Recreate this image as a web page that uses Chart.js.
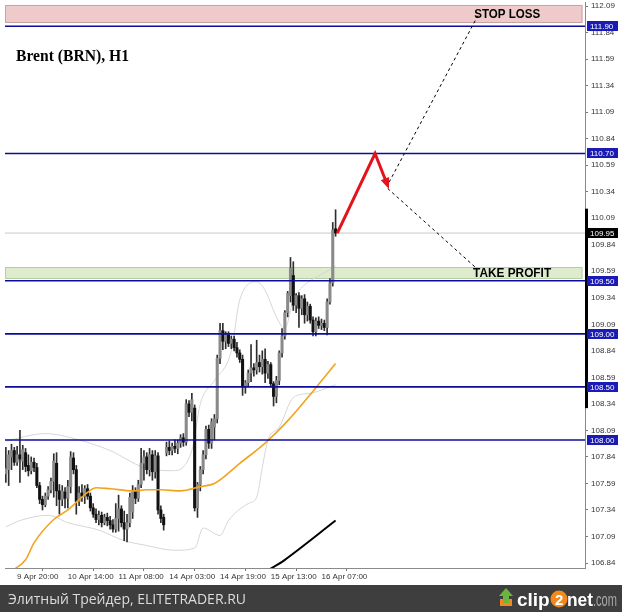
<!DOCTYPE html>
<html>
<head>
<meta charset="utf-8">
<script src="https://cdn.jsdelivr.net/npm/chart.js@4.4.1/dist/chart.umd.min.js"></script>
<style>
  html, body { margin: 0; padding: 0; background: #fff; }
  canvas { display: block; }
</style>
</head>
<body>
<canvas id="brentChart" width="622" height="612"></canvas>
<script>
// Brent (BRN), H1 candles (bar index 0 = first visible hour)
const opens = [107.68, 107.72, 107.84, 107.90, 107.79, 107.86, 107.80, 107.88, 107.76, 107.71,
  107.79, 107.74, 107.57, 107.44, 107.39, 107.47, 107.53, 107.61, 107.78, 107.52,
  107.44, 107.51, 107.45, 107.56, 107.83, 107.72, 107.42, 107.50, 107.47, 107.54,
  107.47, 107.36, 107.30, 107.25, 107.29, 107.22, 107.27, 107.24, 107.20, 107.16,
  107.26, 107.35, 107.22, 107.16, 107.22, 107.32, 107.52, 107.45, 107.58, 107.78,
  107.84, 107.72, 107.86, 107.70, 107.85, 107.34, 107.27, 107.88, 107.93, 107.90,
  107.94, 107.92, 107.97, 108.02, 107.98, 108.34, 108.26, 108.30, 107.36, 107.58,
  107.72, 107.86, 108.10, 107.97, 108.12, 108.20, 108.77, 109.03, 108.93, 108.99,
  108.91, 108.95, 108.87, 108.82, 108.76, 108.50, 108.54, 108.63, 108.68, 108.66,
  108.73, 108.69, 108.76, 108.63, 108.71, 108.53, 108.41, 108.56, 108.82, 108.98,
  109.20, 109.36, 109.55, 109.27, 109.36, 109.24, 109.33, 109.18, 109.26, 109.13,
  109.02, 109.12, 109.08, 109.10, 109.06, 109.30, 109.48, 109.99];
const highs = [107.93, 107.90, 107.96, 107.93, 107.94, 108.09, 107.95, 107.92, 107.86, 107.84,
  107.83, 107.78, 107.60, 107.47, 107.50, 107.56, 107.64, 107.87, 107.88, 107.58,
  107.57, 107.55, 107.62, 107.89, 107.88, 107.76, 107.56, 107.58, 107.57, 107.58,
  107.50, 107.40, 107.35, 107.33, 107.32, 107.30, 107.31, 107.28, 107.25, 107.40,
  107.48, 107.38, 107.33, 107.30, 107.50, 107.57, 107.55, 107.62, 107.92, 107.90,
  107.88, 107.92, 107.90, 107.90, 107.88, 107.38, 107.30, 107.98, 107.99, 107.97,
  108.00, 108.00, 108.05, 108.06, 108.38, 108.37, 108.44, 108.33, 107.60, 107.75,
  107.90, 108.13, 108.14, 108.20, 108.24, 108.80, 109.10, 109.10, 109.02, 109.02,
  108.98, 108.98, 108.92, 108.85, 108.80, 108.56, 108.66, 108.90, 108.72, 108.94,
  108.80, 108.84, 108.86, 108.74, 108.73, 108.55, 108.60, 108.84, 109.05, 109.22,
  109.40, 109.72, 109.68, 109.38, 109.39, 109.36, 109.37, 109.30, 109.28, 109.16,
  109.15, 109.16, 109.14, 109.13, 109.33, 109.52, 110.05, 110.17];
const lows = [107.60, 107.57, 107.72, 107.76, 107.76, 107.60, 107.72, 107.70, 107.66, 107.68,
  107.70, 107.55, 107.40, 107.34, 107.37, 107.44, 107.50, 107.46, 107.38, 107.30,
  107.38, 107.36, 107.36, 107.50, 107.68, 107.30, 107.38, 107.42, 107.40, 107.44,
  107.33, 107.27, 107.22, 107.20, 107.18, 107.20, 107.19, 107.16, 107.13, 107.13,
  107.14, 107.18, 107.05, 107.04, 107.18, 107.26, 107.40, 107.42, 107.55, 107.62,
  107.68, 107.66, 107.62, 107.64, 107.30, 107.22, 107.15, 107.85, 107.86, 107.86,
  107.88, 107.87, 107.93, 107.94, 107.95, 108.22, 108.18, 107.33, 107.27, 107.52,
  107.68, 107.82, 107.92, 107.92, 108.00, 108.16, 108.72, 108.85, 108.86, 108.88,
  108.86, 108.84, 108.78, 108.73, 108.42, 108.44, 108.50, 108.55, 108.60, 108.62,
  108.64, 108.62, 108.54, 108.58, 108.50, 108.32, 108.35, 108.52, 108.78, 108.95,
  109.16, 109.30, 109.22, 109.20, 109.06, 109.18, 109.10, 109.12, 109.10, 108.98,
  108.98, 109.05, 109.04, 109.03, 108.99, 109.28, 109.45, 109.92];
const closes = [107.73, 107.86, 107.90, 107.79, 107.86, 107.82, 107.91, 107.75, 107.71, 107.79,
  107.74, 107.57, 107.44, 107.39, 107.47, 107.53, 107.61, 107.80, 107.52, 107.44,
  107.52, 107.45, 107.56, 107.84, 107.72, 107.42, 107.50, 107.47, 107.54, 107.47,
  107.36, 107.30, 107.25, 107.29, 107.22, 107.27, 107.24, 107.20, 107.16, 107.26,
  107.35, 107.22, 107.16, 107.22, 107.46, 107.52, 107.45, 107.58, 107.78, 107.84,
  107.72, 107.86, 107.70, 107.85, 107.34, 107.26, 107.20, 107.93, 107.90, 107.94,
  107.92, 107.97, 108.02, 107.98, 108.34, 108.26, 108.38, 107.36, 107.58, 107.72,
  107.86, 108.10, 107.97, 108.17, 108.20, 108.77, 109.03, 108.93, 108.99, 108.91,
  108.95, 108.87, 108.82, 108.76, 108.50, 108.54, 108.63, 108.68, 108.66, 108.73,
  108.69, 108.76, 108.63, 108.71, 108.53, 108.41, 108.56, 108.82, 108.98, 109.20,
  109.38, 109.62, 109.27, 109.36, 109.24, 109.33, 109.18, 109.26, 109.13, 109.02,
  109.12, 109.08, 109.10, 109.06, 109.30, 109.48, 109.98, 109.95];

// orange moving average (points read at these bar indices)
const maIdx = [3, 7, 10, 17, 22, 27, 32, 37, 45, 50, 55, 62, 69, 74, 83, 92, 100, 109, 117];
const maVal = [106.78, 106.87, 107.03, 107.25, 107.34, 107.46, 107.55, 107.54, 107.52, 107.53,
  107.53, 107.52, 107.56, 107.59, 107.78, 107.97, 108.18, 108.46, 108.72];

// light grey envelope, upper and lower
const upIdx = [0, 14, 26, 37, 49, 59, 66, 69, 74, 80, 83, 89, 92, 96, 99, 102, 106, 112, 117];
const upVal = [107.99, 108.06, 108.00, 107.90, 107.74, 107.71, 107.90, 108.34, 108.56, 108.84,
  109.32, 109.49, 109.41, 109.16, 109.05, 109.32, 109.46, 109.56, 109.64];
const loIdx = [0, 5, 15, 22, 33, 42, 49, 60, 67, 70, 76, 79, 86, 89, 91, 93, 97, 102, 108, 117];
const loVal = [107.18, 107.24, 107.29, 107.22, 107.15, 107.05, 107.01, 106.96, 106.98, 107.17,
  107.10, 107.24, 107.40, 107.46, 107.74, 108.00, 108.12, 108.40, 108.44, 108.52];

// black slow line at the bottom
const slowIdx = [91, 99, 117];
const slowVal = [106.74, 106.87, 107.24];

// levels drawn on the chart
const levels = [111.90, 110.70, 109.50, 109.00, 108.50, 108.00];
const lastPrice = 109.95;
const stopZone = [111.93, 112.10];
const takeZone = [109.52, 109.63];
const sideBar = [108.30, 110.18];

// forecast path
const arrowIdx = [117.6, 131, 135.3];
const arrowVal = [109.95, 110.70, 110.41];
const dashUpIdx = [136, 167.5];
const dashUpVal = [110.43, 112.00];
const dashDnIdx = [135.5, 166.5];
const dashDnVal = [110.37, 109.63];

// axes
const yTicks = [112.09, 111.84, 111.59, 111.34, 111.09, 110.84, 110.59, 110.34, 110.09, 109.84,
  109.59, 109.34, 109.09, 108.84, 108.59, 108.34, 108.09, 107.84, 107.59, 107.34, 107.09, 106.84];
const xTickIdx = [4, 22, 40, 58, 76, 94, 112];
const xTickLabels = ['9 Apr 20:00', '10 Apr 14:00', '11 Apr 08:00', '14 Apr 03:00',
  '14 Apr 19:00', '15 Apr 13:00', '16 Apr 07:00'];

const X_MIN = -0.3, X_MAX = 205.5;

function pts(xs, ys) {
  return xs.map((v, i) => ({ x: v, y: ys[i] }));
}

// scales should not reserve extra room for overhanging labels
function noPad(s) {
  s.paddingTop = 0;
  s.paddingBottom = 0;
  s.paddingLeft = 0;
  s.paddingRight = 0;
}

const wickData = opens.map((o, i) => ({ x: i, y: [lows[i], highs[i]] }));
const bodyData = opens.map((o, i) => ({ x: i, y: [o, closes[i]] }));
const bodyColors = opens.map((o, i) => closes[i] >= o ? '#8a8a8a' : '#111111');

const datasets = [];

// forecast path on top
datasets.push({
  type: 'line', data: pts(arrowIdx, arrowVal), borderColor: '#e3131b', borderWidth: 3,
  pointRadius: 0, tension: 0, order: 0
});
datasets.push({
  type: 'line', data: pts(dashUpIdx, dashUpVal), borderColor: '#000', borderWidth: 1,
  borderDash: [3, 3], pointRadius: 0, order: 0
});
datasets.push({
  type: 'line', data: pts(dashDnIdx, dashDnVal), borderColor: '#000', borderWidth: 1,
  borderDash: [3, 3], pointRadius: 0, order: 0
});

levels.forEach(lv => {
  datasets.push({
    type: 'line', data: [{ x: X_MIN, y: lv }, { x: X_MAX, y: lv }],
    borderColor: '#0c0c9c', borderWidth: 1.6, pointRadius: 0, order: 1
  });
});

datasets.push({
  type: 'line', data: pts(maIdx, maVal), borderColor: '#f2a41f', borderWidth: 1.6,
  pointRadius: 0, tension: 0.35, cubicInterpolationMode: 'monotone', order: 2
});
datasets.push({
  type: 'line', data: pts(slowIdx, slowVal), borderColor: '#000', borderWidth: 2,
  pointRadius: 0, tension: 0.3, order: 2
});

// candles: bodies over wicks
datasets.push({
  type: 'bar', data: bodyData, backgroundColor: bodyColors, barThickness: 2.4,
  minBarLength: 1, grouped: false, order: 3
});
datasets.push({
  type: 'bar', data: wickData, backgroundColor: '#2e2e2e', barThickness: 1,
  grouped: false, order: 4
});

datasets.push({
  type: 'line', data: pts(upIdx, upVal), borderColor: '#d6d6d6', borderWidth: 1,
  pointRadius: 0, tension: 0.35, cubicInterpolationMode: 'monotone', order: 5
});
datasets.push({
  type: 'line', data: pts(loIdx, loVal), borderColor: '#d6d6d6', borderWidth: 1,
  pointRadius: 0, tension: 0.35, cubicInterpolationMode: 'monotone', order: 5
});
datasets.push({
  type: 'line', data: [{ x: X_MIN, y: lastPrice }, { x: X_MAX, y: lastPrice }],
  borderColor: '#c9c9c9', borderWidth: 1, pointRadius: 0, order: 6
});

// zones, labels, price boxes and footer
const overlay = {
  id: 'overlay',
  beforeDatasetsDraw(chart) {
    const { ctx, chartArea: a, scales: { x, y } } = chart;
    const right = x.getPixelForValue(204.6);
    function zone(range, fill, stroke) {
      const t = y.getPixelForValue(range[1]);
      const b = y.getPixelForValue(range[0]);
      ctx.save();
      ctx.fillStyle = fill;
      ctx.fillRect(a.left, t, right - a.left, b - t);
      ctx.strokeStyle = stroke;
      ctx.lineWidth = 1;
      ctx.strokeRect(a.left + 0.5, Math.round(t) + 0.5, right - a.left - 1, Math.round(b - t) - 1);
      ctx.restore();
    }
    zone(stopZone, '#efcaca', '#c7a3a3');
    zone(takeZone, '#deebcc', '#b6cd9f');
  },
  afterDatasetsDraw(chart) {
    const { ctx, scales: { x, y } } = chart;
    ctx.save();
    // arrow head at the end of the red path
    const n = arrowIdx.length;
    const x1 = x.getPixelForValue(arrowIdx[n - 2]), y1 = y.getPixelForValue(arrowVal[n - 2]);
    const x2 = x.getPixelForValue(arrowIdx[n - 1]), y2 = y.getPixelForValue(arrowVal[n - 1]);
    const ang = Math.atan2(y2 - y1, x2 - x1);
    ctx.translate(x2, y2);
    ctx.rotate(ang);
    ctx.fillStyle = '#e3131b';
    ctx.beginPath();
    ctx.moveTo(5, 0);
    ctx.lineTo(-6, -4.5);
    ctx.lineTo(-6, 4.5);
    ctx.closePath();
    ctx.fill();
    ctx.restore();

    ctx.save();
    ctx.fillStyle = '#000';
    ctx.font = 'bold 12px "Liberation Sans", Arial, sans-serif';
    ctx.textBaseline = 'middle';
    ctx.fillText('STOP LOSS', x.getPixelForValue(166.2), y.getPixelForValue((stopZone[0] + stopZone[1]) / 2) + 0.5, 66);
    ctx.fillText('TAKE PROFIT', x.getPixelForValue(165.8), y.getPixelForValue((takeZone[0] + takeZone[1]) / 2) + 1, 78);
    ctx.textBaseline = 'alphabetic';
    ctx.font = 'bold 16px "Liberation Serif", "Times New Roman", serif';
    ctx.fillText('Brent (BRN), H1', 16, 61, 113);
    ctx.restore();
  },
  afterDraw(chart) {
    const { ctx, chartArea: a, scales: { y } } = chart;
    ctx.save();
    // thick bar along the price scale
    const bt = y.getPixelForValue(sideBar[1]), bb = y.getPixelForValue(sideBar[0]);
    ctx.fillStyle = '#000';
    ctx.fillRect(a.right, bt, 3, bb - bt);

    ctx.font = '8px "Liberation Sans", Arial, sans-serif';
    ctx.textBaseline = 'middle';
    function tag(v, bg) {
      const py = Math.round(y.getPixelForValue(v));
      ctx.fillStyle = bg;
      ctx.fillRect(a.right + 2, py - 5, 31, 10);
      ctx.fillStyle = '#fff';
      ctx.fillText(v.toFixed(2), a.right + 5, py + 0.5);
    }
    levels.forEach(lv => tag(lv, '#1a1ab4'));
    tag(lastPrice, '#000');

    // footer strip
    ctx.fillStyle = '#3e3e3e';
    ctx.fillRect(0, 585, 622, 27);
    ctx.textBaseline = 'alphabetic';
    ctx.fillStyle = '#dcdcdc';
    ctx.font = '14px "Open Sans", "DejaVu Sans", sans-serif';
    ctx.fillText('Элитный Трейдер, ELITETRADER.RU', 8, 604, 252);

    // clip2net logo
    ctx.fillStyle = '#f08a1c';
    ctx.fillRect(500, 599, 12, 7);
    ctx.fillStyle = '#6cb33f';
    ctx.beginPath();
    ctx.moveTo(506, 588); ctx.lineTo(513, 596); ctx.lineTo(509, 596); ctx.lineTo(509, 603);
    ctx.lineTo(503, 603); ctx.lineTo(503, 596); ctx.lineTo(499, 596); ctx.closePath();
    ctx.fill();
    ctx.font = 'bold 19px "Liberation Sans", Arial, sans-serif';
    ctx.fillStyle = '#ffffff';
    ctx.fillText('clip', 517, 606, 33);
    ctx.fillStyle = '#f08a1c';
    ctx.beginPath();
    ctx.arc(559, 599, 8.5, 0, Math.PI * 2);
    ctx.fill();
    ctx.fillStyle = '#ffffff';
    ctx.font = 'bold 15px "Liberation Sans", Arial, sans-serif';
    ctx.fillText('2', 555, 605);
    ctx.font = 'bold 19px "Liberation Sans", Arial, sans-serif';
    ctx.fillText('net', 567, 606, 26);
    ctx.fillStyle = '#a8a8a8';
    ctx.font = '19px "Liberation Sans", Arial, sans-serif';
    ctx.fillText('.com', 593, 606, 24);
    ctx.restore();
  }
};

new Chart(document.getElementById('brentChart'), {
  type: 'bar',
  data: { datasets: datasets },
  plugins: [overlay],
  options: {
    responsive: false,
    animation: false,
    events: [],
    layout: { padding: { left: 5, top: 2, right: 0, bottom: 27 } },
    plugins: { legend: { display: false }, tooltip: { enabled: false } },
    scales: {
      x: {
        type: 'linear',
        min: X_MIN,
        max: X_MAX,
        offset: false,
        afterBuildTicks: s => { s.ticks = xTickIdx.map(v => ({ value: v })); },
        afterFit: s => { s.height = 17; noPad(s); },
        grid: { display: true, drawOnChartArea: false, drawTicks: true, tickLength: 3, color: '#777' },
        border: { display: true, color: '#8a8a8a' },
        ticks: {
          autoSkip: false, maxRotation: 0, align: 'start', padding: 1,
          color: '#333', font: { family: '"Liberation Sans", Arial, sans-serif', size: 8 },
          callback: (v, i) => xTickLabels[i]
        }
      },
      y: {
        type: 'linear',
        position: 'right',
        min: 106.793,
        max: 112.128,
        afterBuildTicks: s => { s.ticks = yTicks.map(v => ({ value: v })); },
        afterFit: s => { s.width = 37; noPad(s); },
        grid: { display: true, drawOnChartArea: false, drawTicks: true, tickLength: 3, color: '#777' },
        border: { display: true, color: '#8a8a8a' },
        ticks: {
          padding: 3, color: '#333', font: { family: '"Liberation Sans", Arial, sans-serif', size: 8 },
          callback: v => v.toFixed(2)
        }
      }
    }
  }
});
</script>
</body>
</html>
